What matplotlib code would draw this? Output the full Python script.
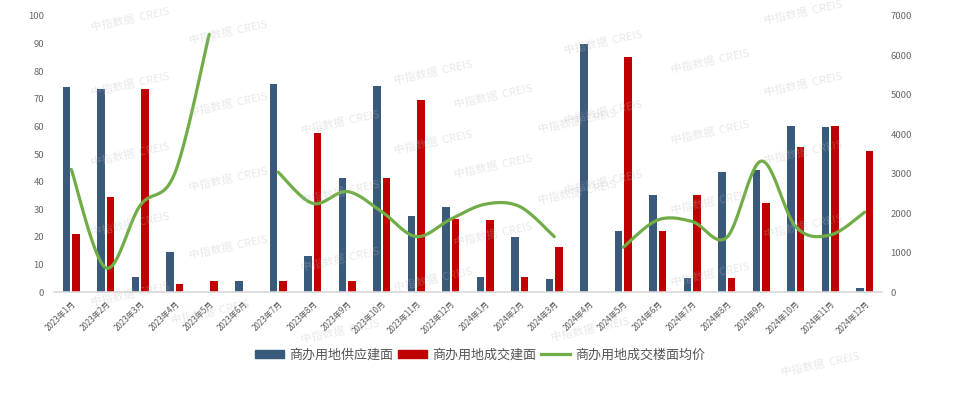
import numpy as np
import matplotlib
matplotlib.use("Agg")
import matplotlib.pyplot as plt
from matplotlib.patches import Patch
from matplotlib.lines import Line2D

plt.rcParams["font.family"] = ["Noto Sans CJK SC", "DejaVu Sans"]

# ── 数据 ─────────────────────────────────────────────
months = [f"2023年{m}月" for m in range(1, 13)] + [f"2024年{m}月" for m in range(1, 13)]

supply = [74.1, 73.4, 5.5, 14.5, 0, 4.0, 75.3, 13.2, 41.2, 74.6, 27.5, 31.0,
          5.5, 20.0, 4.8, 89.7, 22.0, 35.2, 5.1, 43.4, 44.3, 60.1, 59.6, 1.5]
deal = [21.0, 34.5, 73.4, 3.0, 4.0, 0, 4.0, 57.5, 4.1, 41.2, 69.4, 26.5,
        26.0, 5.5, 16.3, 0, 85.0, 22.0, 35.2, 5.1, 32.2, 52.4, 60.1, 51.1]
price = [3110, 620, 2200, 3010, 6530, None, 3040, 2250, 2550, 2040, 1410, 1850,
         2230, 2170, 1410, None, 1140, 1830, 1790, 1390, 3320, 1660, 1450, 2030]

C_SUPPLY = "#3A5A7C"
C_DEAL = "#C00000"
C_PRICE = "#70AD47"
C_TEXT = "#666666"


def smooth_segment(xs, ys, n=30, s=1 / 6):
    # courbe de Bézier type Catmull-Rom passant par les points
    px, py = [], []
    k = len(xs)
    for i in range(k - 1):
        x0, y0 = xs[max(i - 1, 0)], ys[max(i - 1, 0)]
        x1, y1 = xs[i], ys[i]
        x2, y2 = xs[i + 1], ys[i + 1]
        x3, y3 = xs[min(i + 2, k - 1)], ys[min(i + 2, k - 1)]
        c1x, c1y = x1 + (x2 - x0) * s, y1 + (y2 - y0) * s
        c2x, c2y = x2 - (x3 - x1) * s, y2 - (y3 - y1) * s
        t = np.linspace(0, 1, n)
        a, b, c, d = (1 - t) ** 3, 3 * (1 - t) ** 2 * t, 3 * (1 - t) * t ** 2, t ** 3
        px.extend(a * x1 + b * c1x + c * c2x + d * x2)
        py.extend(a * y1 + b * c1y + c * c2y + d * y2)
    return px, py


fig = plt.figure(figsize=(9.6, 3.97), dpi=100)
ax = fig.add_axes([54 / 960, 1 - 292.3 / 397, 828 / 960, 276.6 / 397])
ax2 = ax.twinx()

x = np.arange(len(months))
w = 0.215
off = 0.138
ax.bar(x - off, supply, w, color=C_SUPPLY, zorder=2)
ax.bar(x + off, deal, w, color=C_DEAL, zorder=2)

# ── Ligne lissée, interrompue aux valeurs manquantes ──
seg_x, seg_y = [], []
for i, p in enumerate(price + [None]):
    if p is None:
        if len(seg_x) > 1:
            sx, sy = smooth_segment(seg_x, seg_y)
            ax2.plot(sx, sy, color=C_PRICE, lw=2.3, solid_capstyle="round", zorder=3)
        seg_x, seg_y = [], []
    else:
        seg_x.append(i)
        seg_y.append(p)

ax.set_xlim(-0.5, len(months) - 0.5)
ax.set_ylim(0, 100)
ax.set_yticks(range(0, 101, 10))
ax2.set_ylim(0, 7000)
ax2.set_yticks(range(0, 7001, 1000))

ax.set_xticks(x)
ax.set_xticklabels(months, rotation=45, ha="right", rotation_mode="anchor",
                   fontsize=5.8, color="#595959")
ax.tick_params(axis="x", length=0, pad=5)
ax.tick_params(axis="y", length=0, pad=7, labelsize=6.8, labelcolor=C_TEXT)
ax2.tick_params(axis="y", length=0, pad=6, labelsize=6.8, labelcolor=C_TEXT)

for a in (ax, ax2):
    for side in ("top", "left", "right"):
        a.spines[side].set_visible(False)
    a.spines["bottom"].set_color("#D9D9D9")
    a.spines["bottom"].set_linewidth(1.2)
ax2.spines["bottom"].set_visible(False)

# ── Légende ──────────────────────────────────────────
handles = [
    Patch(color=C_SUPPLY, label="商办用地供应建面"),
    Patch(color=C_DEAL, label="商办用地成交建面"),
    Line2D([], [], color=C_PRICE, lw=2.3, label="商办用地成交楼面均价"),
]
fig.legend(handles=handles, loc="center", bbox_to_anchor=(0.5, 1 - 355 / 397), ncol=3,
           frameon=False, fontsize=9.4, handlelength=2.2, handleheight=0.6,
           handletextpad=0.4, columnspacing=0.4, labelcolor="#555555")

# ── Filigrane ────────────────────────────────────────
wm = [(130, 20), (228, 33), (130, 85), (228, 105), (130, 155), (228, 180), (130, 225),
      (228, 248), (130, 295), (210, 313), (340, 123), (433, 73), (493, 97), (340, 193),
      (433, 143), (493, 167), (340, 260), (433, 280), (493, 235), (577, 122), (577, 193),
      (603, 43), (603, 113), (603, 183), (710, 62), (710, 133), (710, 203), (803, 13),
      (803, 85), (803, 153), (803, 227), (590, 330), (340, 332), (820, 365), (710, 275)]
for wx, wy in wm:
    fig.text(wx / 960, 1 - wy / 397, "中指数据  CREIS", fontsize=8, color="#BBBBBB",
             alpha=0.33, rotation=12, ha="center", va="center", zorder=10)

fig.savefig("out.png", dpi=100)
